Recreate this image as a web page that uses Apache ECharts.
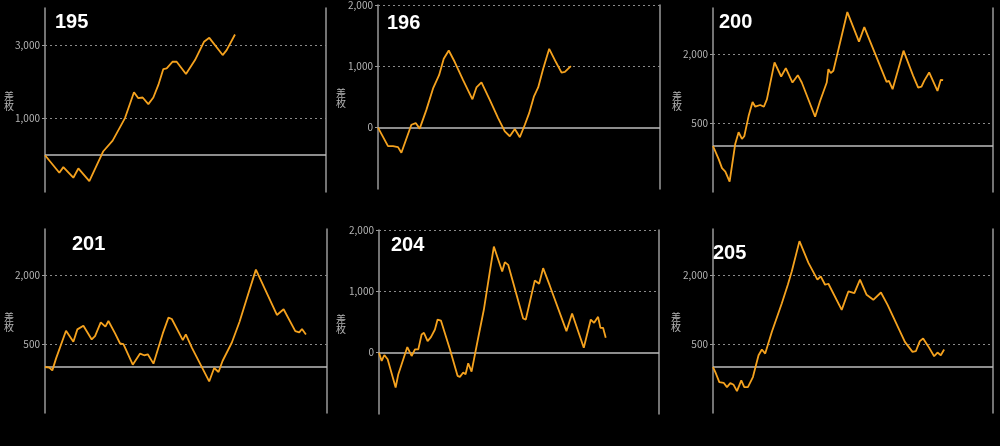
<!DOCTYPE html>
<html><head><meta charset="utf-8">
<script src="https://cdn.jsdelivr.net/npm/echarts@6/dist/echarts.min.js"></script>
<style>html,body{margin:0;padding:0;background:#000}#c{width:1000px;height:446px}</style>
</head><body><div id="c"></div>
<script>
// chart titles (machine numbers)
const titles = ['195', '196', '200', '201', '204', '205'];
// y-axis label values per chart
const labels195 = [1000, 3000];
const labels196 = [0, 1000, 2000];
const labels200 = [500, 2000];
const labels201 = [500, 2000];
const labels204 = [0, 1000, 2000];
const labels205 = [500, 2000];
// y ranges per chart [min, max]
const range195 = [-1000, 4000];
const range196 = [-1000, 2000];
const range200 = [-1000, 3000];
const range201 = [-1000, 3000];
const range204 = [-1000, 2000];
const range205 = [-1000, 3000];
// series: [games, 差枚]
const d195 = [[0,0],[459,-477],[587,-324],[907,-612],[1068,-360],[1420,-703],[1868,108],[2167,396],[2562,1009],[2850,1712],[2989,1550],[3128,1568],[3310,1387],[3470,1568],[3630,1910],[3790,2342],[3897,2360],[4089,2540],[4217,2540],[4516,2207],[4804,2586],[5092,3081],[5263,3189],[5690,2721],[5818,2856],[6085,3279]];
const d196 = [[0,0],[320,-301],[479,-301],[639,-317],[746,-409],[1065,48],[1203,75],[1331,-16],[1544,290],[1757,640],[1949,855],[2098,1124],[2258,1258],[2450,1070],[2716,774],[3014,462],[3142,656],[3302,737],[3568,452],[3834,156],[4047,-59],[4207,-140],[4366,-22],[4526,-156],[4686,48],[4824,237],[4974,505],[5112,656],[5272,962],[5464,1285],[5677,1070],[5858,898],[5964,909],[6156,1005]];
const d200 = [[0,0],[182,-285],[289,-482],[396,-555],[534,-774],[716,51],[823,299],[930,153],[1005,212],[1144,650],[1272,956],[1358,854],[1518,891],[1635,854],[1732,1015],[1978,1818],[2191,1511],[2341,1693],[2555,1380],[2726,1540],[2854,1380],[3282,635],[3442,978],[3656,1380],[3709,1672],[3784,1584],[3869,1635],[4318,2912],[4692,2270],[4863,2584],[5579,1394],[5654,1416],[5772,1234],[6124,2073],[6434,1526],[6595,1270],[6702,1292],[6787,1416],[6948,1599],[7215,1197],[7322,1438],[7397,1431]];
const d201 = [[0,0],[138,-15],[234,-73],[351,182],[671,788],[905,547],[1033,818],[1225,898],[1491,599],[1597,672],[1779,971],[1928,876],[2024,1000],[2236,730],[2396,511],[2503,496],[2801,51],[3035,292],[3163,255],[3280,277],[3461,73],[3759,730],[3940,1073],[4047,1044],[4398,584],[4494,708],[4686,423],[5240,-314],[5399,-22],[5538,-109],[5666,131],[5964,533],[6209,985],[6528,1679],[6731,2117],[7402,1131],[7615,1255],[7988,781],[8115,752],[8201,825],[8328,708]];
const d204 = [[0,0],[86,-135],[171,-38],[278,-108],[535,-568],[621,-351],[728,-189],[910,92],[1049,-54],[1156,54],[1263,54],[1370,297],[1445,324],[1562,189],[1669,254],[1798,378],[1883,540],[1990,524],[2279,54],[2525,-378],[2600,-395],[2707,-324],[2782,-351],[2868,-173],[2975,-308],[3189,243],[3371,703],[3564,1324],[3692,1730],[3960,1324],[4045,1476],[4152,1432],[4634,557],[4719,540],[5008,1178],[5147,1124],[5276,1378],[5329,1362],[5490,1092],[5544,1124],[6025,351],[6207,638],[6582,81],[6807,540],[6914,486],[7042,584],[7117,405],[7202,405],[7288,243]];
const d205 = [[0,0],[96,-146],[203,-328],[342,-343],[449,-438],[556,-350],[663,-387],[770,-526],[909,-292],[1005,-438],[1122,-438],[1283,-219],[1464,255],[1571,380],[1678,292],[1892,766],[2213,1387],[2405,1788],[2533,2080],[2779,2737],[3068,2263],[3356,1898],[3463,1971],[3602,1788],[3709,1810],[4137,1241],[4351,1642],[4543,1606],[4725,1898],[4938,1569],[5152,1460],[5398,1620],[5612,1350],[6168,547],[6413,328],[6520,343],[6648,562],[6755,620],[6916,453],[7108,234],[7215,314],[7322,255],[7429,380]];
const xMaxGames = 9000;
const yName = '差枚';

const seriesData = [d195, d196, d200, d201, d204, d205];
const labelSets = [labels195, labels196, labels200, labels201, labels204, labels205];
const ranges = [range195, range196, range200, range201, range204, range205];

// layout (pixels)
const grids = [
  {left:45, top:8, width:281, height:184},
  {left:378, top:4, width:282, height:185},
  {left:713, top:8, width:280, height:184},
  {left:45, top:229, width:282, height:184},
  {left:379, top:230, width:280, height:184},
  {left:713, top:229, width:280, height:184}
];
const titlePos = [[55,24],[387,25],[719,24],[72,246],[391,247],[713,255]];
const namePos = [[9,101],[341,98],[677,101],[9,322],[341,324],[676,322]];

const fmt = v => v.toLocaleString('en-US');
const option = {
  backgroundColor:'#000',
  animation:false,
  grid:[], xAxis:[], yAxis:[], series:[], graphic:[]
};
grids.forEach((g,i)=>{
  option.grid.push(Object.assign({containLabel:false}, g));
  option.xAxis.push({type:'value', gridIndex:i, min:0, max:xMaxGames, show:false});
  const labs = labelSets[i];
  option.yAxis.push({
    type:'value', gridIndex:i, position:'left', min:ranges[i][0], max:ranges[i][1], interval:500,
    axisLine:{show:true, onZero:false, lineStyle:{color:'#9a9a9a', width:1.5}},
    axisTick:{show:true, length:3, inside:false, customValues:labs, lineStyle:{color:'#9a9a9a'}},
    axisLabel:{customValues:labs, color:'#b4b4b4', fontSize:10, margin:5,
      fontFamily:'Noto Sans CJK JP', formatter:v=>labs.indexOf(v)>=0?fmt(v):''},
    splitLine:{show:false}
  });
  option.yAxis.push({
    type:'value', gridIndex:i, position:'right', min:ranges[i][0], max:ranges[i][1], interval:500,
    axisLine:{show:true, onZero:false, lineStyle:{color:'#9a9a9a', width:1.5}},
    axisTick:{show:false}, axisLabel:{show:false}, splitLine:{show:false}
  });
  option.series.push({
    type:'line', xAxisIndex:i, yAxisIndex:i*2, data:seriesData[i], symbol:'none', smooth:false,
    lineStyle:{color:'#f5a21e', width:1.8}, z:5,
    markLine:{silent:true, symbol:'none', label:{show:false}, animation:false,
      data: labs.filter(v=>v!==0).map(v=>({yAxis:v, lineStyle:{type:[2,3], color:'#8a8a8a', width:1}}))
        .concat([{yAxis:0, lineStyle:{type:'solid', color:'#bdbdbd', width:1.5}}])}
  });
  option.graphic.push({type:'text', left:titlePos[i][0], top:titlePos[i][1]-12, z:10,
    style:{text:titles[i], fill:'#fff', font:'bold 20px "Liberation Sans", Arial'}});
  option.graphic.push({type:'text', left:namePos[i][0]-5, top:namePos[i][1]-10, z:10,
    style:{text:yName.split('').join('\n'), fill:'#b4b4b4', fontSize:10, lineHeight:10,
      fontFamily:'Noto Sans CJK JP', align:'left'}});
});
const chart = echarts.init(document.getElementById('c'));
chart.setOption(option);
</script></body></html>
